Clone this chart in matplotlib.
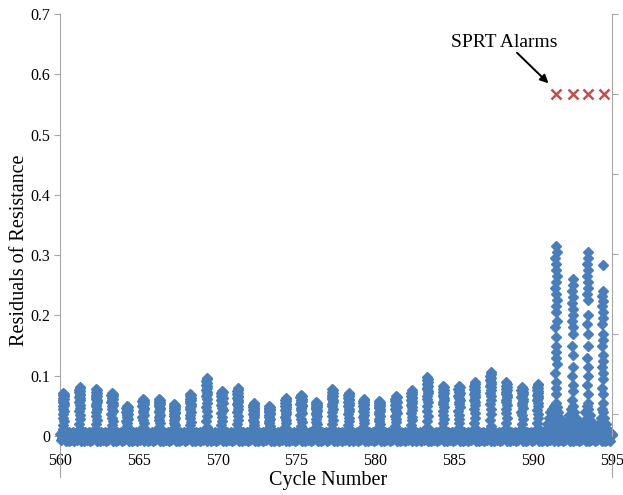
import matplotlib
matplotlib.use("Agg")
import matplotlib.pyplot as plt

plt.rcParams['font.family'] = ['Liberation Serif', 'DejaVu Serif']

# === Dane ===
# kolumny "normalnych" cykli (560-590): pozycja i szczyt residuów
col_x = [560.2, 561.25, 562.3, 563.3, 564.25, 565.27, 566.3, 567.24, 568.26, 569.3,
         570.27, 571.27, 572.27, 573.28, 574.3, 575.29, 576.26, 577.27, 578.3, 579.25,
         580.25, 581.3, 582.3, 583.3, 584.3, 585.3, 586.3, 587.3, 588.3, 589.3, 590.3]
col_peak = [0.072, 0.082, 0.078, 0.072, 0.050, 0.062, 0.062, 0.053, 0.070, 0.097,
            0.075, 0.079, 0.054, 0.050, 0.063, 0.068, 0.057, 0.078, 0.072, 0.062,
            0.058, 0.066, 0.076, 0.098, 0.083, 0.083, 0.089, 0.106, 0.089, 0.081, 0.087]
# profil kolumny (ułamek szczytu)
col_frac = [1.0, 0.97, 0.94, 0.91, 0.88, 0.85, 0.82, 0.79, 0.76, 0.72, 0.68, 0.63,
            0.57, 0.50, 0.42, 0.34, 0.25, 0.15]
col_dx = [0, 0.04, -0.04, 0.03, -0.03, 0.04, 0, -0.04, 0.03, 0.04, -0.03,
          0, 0.04, -0.04, 0, 0.03, -0.03, 0, 0.04, -0.04, 0, 0.03, -0.02, 0.02]

# pasmo bazowe w każdym cyklu
base_cycles = list(range(560, 595))
base_dx = [0.0, 0.05, 0.10, 0.15, 0.20, 0.25, 0.30, 0.35, 0.40, 0.45,
           0.50, 0.55, 0.60, 0.65, 0.70, 0.75, 0.80, 0.85, 0.90, 0.95]
base_y = [0.004, -0.007, 0.007, -0.003, 0.009, 0.011, 0.002, -0.008, 0.006, -0.004,
          0.003, -0.008, 0.007, -0.002, -0.007, 0.005, -0.004, 0.006, -0.008, 0.001]

# kolumny w stanie awarii (591-595)
fault_x = [591.45, 592.5, 593.45, 594.4]
fault_cols = [
    [0.315, 0.305, 0.295, 0.285, 0.275, 0.265, 0.255, 0.245, 0.235, 0.225, 0.215, 0.205,
     0.19, 0.18, 0.165, 0.15, 0.14, 0.13, 0.12, 0.105, 0.09, 0.08, 0.07, 0.055],
    [0.26, 0.25, 0.24, 0.23, 0.22, 0.21, 0.2, 0.19, 0.18, 0.17, 0.15, 0.135,
     0.115, 0.1, 0.085, 0.075, 0.06],
    [0.305, 0.295, 0.285, 0.275, 0.265, 0.255, 0.245, 0.235, 0.225, 0.2, 0.185,
     0.17, 0.15, 0.13, 0.115, 0.1, 0.085, 0.07, 0.055],
    [0.283, 0.24, 0.232, 0.224, 0.216, 0.205, 0.195, 0.185, 0.17, 0.16, 0.15,
     0.135, 0.125, 0.115, 0.105, 0.095, 0.08, 0.07, 0.055, 0.045],
]
hump_x = [590.7, 590.8, 590.9, 591.0, 591.1, 591.2, 591.3, 591.4, 591.5, 591.6, 591.7,
          591.8, 591.9, 592.0, 592.1, 592.2, 592.3, 592.4, 592.5, 592.6, 592.7, 592.8,
          592.9, 593.0, 593.1, 593.2, 593.3, 593.4, 593.5, 593.6, 593.7, 593.8, 593.9,
          594.0, 594.1, 594.2, 594.3, 594.4, 594.5, 594.6, 594.7, 594.8, 594.9, 595.0]
hump_top = [0.005, 0.01, 0.02, 0.03, 0.04, 0.045, 0.05, 0.052, 0.048, 0.04, 0.03,
            0.02, 0.01, 0.005, 0.015, 0.025, 0.035, 0.045, 0.05, 0.04, 0.03, 0.02,
            0.012, 0.006, 0.012, 0.025, 0.04, 0.05, 0.045, 0.035, 0.025, 0.015, 0.008,
            0.005, 0.01, 0.02, 0.03, 0.04, 0.03, 0.02, 0.012, 0.006, 0.003, 0.004]
hump_mid = [0.002, 0.005, 0.01, 0.015, 0.02, 0.025, 0.028, 0.03, 0.027, 0.022, 0.016,
            0.01, 0.005, 0.002, 0.008, 0.013, 0.02, 0.025, 0.028, 0.022, 0.016, 0.01,
            0.006, 0.003, 0.006, 0.013, 0.022, 0.028, 0.025, 0.02, 0.013, 0.008, 0.004,
            0.002, 0.005, 0.01, 0.016, 0.022, 0.016, 0.01, 0.006, 0.003, 0.001, 0.002]

# alarmy SPRT (oś pomocnicza, 1 = alarm)
alarm_x = [591.45, 592.5, 593.5, 594.5]
alarm_y = [1, 1, 1, 1]

# === Zbieranie punktów ===
xs, ys = [], []
for c in base_cycles:
    for dx, y in zip(base_dx, base_y):
        xs.append(c + dx)
        ys.append(y)
for cx, pk in zip(col_x, col_peak):
    for dx, f in zip(col_dx, col_frac):
        xs.append(cx + dx)
        ys.append(pk * f)
for fx, col in zip(fault_x, fault_cols):
    for i, y in enumerate(col):
        xs.append(fx + col_dx[i % len(col_dx)])
        ys.append(y)
xs += hump_x + hump_x
ys += hump_top + hump_mid

blue = "#4a7ebb"
grey = "#a6a6a6"

fig = plt.figure(figsize=(6.23, 4.95), dpi=100)
ax = fig.add_axes([0.0963, 0.1192, 0.8860, 0.8525])
ax.plot(xs, ys, linestyle="none", marker="D", markersize=4.8, color=blue,
        markeredgecolor=blue, zorder=3, clip_on=False)

ax.set_xlim(560, 595)
ax.set_ylim(0, 0.7)
ax.set_xticks([560, 565, 570, 575, 580, 585, 590, 595])
ax.set_yticks([0, 0.1, 0.2, 0.3, 0.4, 0.5, 0.6, 0.7])
ax.set_yticklabels(["0", "0.1", "0.2", "0.3", "0.4", "0.5", "0.6", "0.7"])
ax.tick_params(axis="x", length=0, pad=12, labelsize=11.5)
ax.tick_params(axis="y", length=4, color=grey, labelsize=11.5, pad=3)
for s in ["top", "bottom", "right"]:
    ax.spines[s].set_visible(False)
ax.spines["left"].set_color(grey)

# przedłużenia osi pod wykresem
ax.plot([0, 0], [0, -0.098], transform=ax.transAxes, color=grey, lw=0.8, clip_on=False)
ax.plot([1, 1], [-0.045, -0.098], transform=ax.transAxes, color=grey, lw=0.8, clip_on=False)

ax.set_xlabel("Cycle Number", fontsize=14.5)
ax.set_ylabel("Residuals of Resistance", fontsize=14.5)
ax.xaxis.set_label_coords(0.485, -0.082)
ax.yaxis.set_label_coords(-0.057, 0.44)

ax2 = ax.twinx()
ax2.set_ylim(-1.1375, 1.5)
ax2.set_yticks([-1, -0.5, 0, 0.5, 1, 1.5])
ax2.set_yticklabels([])
ax2.tick_params(axis="y", length=4, color=grey)
for s in ["top", "bottom", "left"]:
    ax2.spines[s].set_visible(False)
ax2.spines["right"].set_color(grey)
ax2.plot(alarm_x, alarm_y, linestyle="none", marker="x", markersize=6.5,
         markeredgewidth=1.8, color="#c0504d", clip_on=False)

ax2.text(588.2, 1.325, "SPRT Alarms", fontsize=14, ha="center", va="center")
ax2.annotate("", xy=(591.1, 1.055), xytext=(588.85, 1.27),
             arrowprops=dict(arrowstyle="-|>", color="black", lw=1.4, mutation_scale=12))

plt.savefig("out.png", dpi=100)
